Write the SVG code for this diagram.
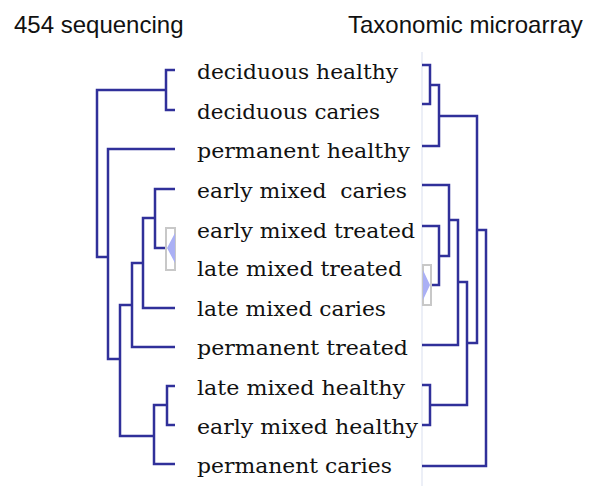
<svg xmlns="http://www.w3.org/2000/svg" width="600" height="486" viewBox="0 0 600 486">
<style>
.hdr{font-family:"Liberation Sans",Arial,sans-serif;font-size:24px;fill:#111}
.lbl{font-family:"DejaVu Serif","Liberation Serif",serif;font-size:21px;fill:#111;white-space:pre}
.edge{fill:none;stroke:#30309a;stroke-width:2.5;stroke-linejoin:miter}
.box{fill:#fff;stroke:#c8c8c8;stroke-width:2}
.tri{fill:#aab0f5;stroke:none}
</style>
<rect width="600" height="486" fill="#fff"/>
<text class="hdr" x="14" y="33">454 sequencing</text>
<text class="hdr" x="348" y="33">Taxonomic microarray</text>
<line x1="422" y1="52" x2="422" y2="486" stroke="#dfe5f2" stroke-width="1.2"/>
<g id="connectors">
<path class="edge" d="M175,70 H166 V110 H175"/>
<path class="edge" d="M166,90 H97 V257 H108"/>
<path class="edge" d="M175,149 H108 V359 H120"/>
<path class="edge" d="M175,189 H155 V248 H166"/>
<path class="edge" d="M155,218 H143 V308 H175"/>
<path class="edge" d="M143,263 H132 V347 H175"/>
<path class="edge" d="M132,305 H120 V436 H154"/>
<path class="edge" d="M175,386 H167 V425 H175"/>
<path class="edge" d="M167,405 H154 V464 H175"/>
<path class="edge" d="M422,65 H430 V104 H422"/>
<path class="edge" d="M430,85 H439 V146 H422"/>
<path class="edge" d="M439,116 H477 V343 H467"/>
<path class="edge" d="M422,185 H449 V256 H439"/>
<path class="edge" d="M449,220 H458 V345 H422"/>
<path class="edge" d="M422,226 H439 V285 H431"/>
<path class="edge" d="M458,282 H467 V405 H430"/>
<path class="edge" d="M422,385 H430 V425 H422"/>
<path class="edge" d="M477,230 H486 V466 H422"/>
</g>
<g id="collapsed-left">
<rect class="box" x="166" y="228" width="9" height="42"/>
<polygon class="tri" points="175,233 175,263 167,248"/>
</g>
<g id="collapsed-right">
<rect class="box" x="423" y="265" width="8" height="40"/>
<polygon class="tri" points="423,270 423,300 430,285"/>
</g>
<g id="n1"><text class="lbl" x="197" y="79" textLength="201" lengthAdjust="spacingAndGlyphs">deciduous healthy</text></g>
<g id="n2"><text class="lbl" x="197" y="119" textLength="183" lengthAdjust="spacingAndGlyphs">deciduous caries</text></g>
<g id="n3"><text class="lbl" x="197" y="158" textLength="213" lengthAdjust="spacingAndGlyphs">permanent healthy</text></g>
<g id="n4"><text class="lbl" x="197" y="198" textLength="210" lengthAdjust="spacingAndGlyphs" xml:space="preserve">early mixed  caries</text></g>
<g id="n5"><text class="lbl" x="197" y="238" textLength="218" lengthAdjust="spacingAndGlyphs">early mixed treated</text></g>
<g id="n6"><text class="lbl" x="197" y="276" textLength="205" lengthAdjust="spacingAndGlyphs">late mixed treated</text></g>
<g id="n7"><text class="lbl" x="197" y="316" textLength="189" lengthAdjust="spacingAndGlyphs">late mixed caries</text></g>
<g id="n8"><text class="lbl" x="197" y="355" textLength="211" lengthAdjust="spacingAndGlyphs">permanent treated</text></g>
<g id="n9"><text class="lbl" x="197" y="395" textLength="208" lengthAdjust="spacingAndGlyphs">late mixed healthy</text></g>
<g id="n10"><text class="lbl" x="197" y="434" textLength="221" lengthAdjust="spacingAndGlyphs">early mixed healthy</text></g>
<g id="n11"><text class="lbl" x="197" y="473" textLength="195" lengthAdjust="spacingAndGlyphs">permanent caries</text></g>
</svg>
